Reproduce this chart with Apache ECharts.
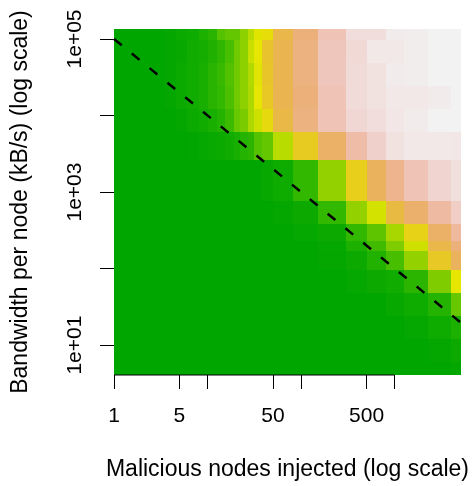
<!DOCTYPE html>
<html>
<head>
<meta charset="utf-8">
<script src="https://cdn.jsdelivr.net/npm/echarts@6/dist/echarts.min.js"></script>
<style>
  html, body { margin: 0; padding: 0; background: #fff; }
  #chart { width: 472px; height: 486px; }
</style>
</head>
<body>
<div id="chart"></div>
<script>
// cell edges (data units)
var xEdges = [1, 3.4, 4.6, 6, 8, 10, 12.5, 15.5, 19, 22, 27, 31, 38, 50, 82, 150, 300, 500, 800, 1270, 2280, 4000, 5100];
var yEdges = [4.07, 6, 12, 24, 48, 97, 172, 232, 384, 768, 2600, 6150, 12300, 24600, 49200, 97000, 135000];

// colour level (0 = green, 0.5 = yellow, 1 = white), rows from bottom to top
var levels = [
  [0,0,0,0,0,0,0,0,0,0,0,0,0,0,0,0,0,0,0,0,0,0.01],
  [0,0,0,0,0,0,0,0,0,0,0,0,0,0,0,0,0,0,0,0,0.01,0.035],
  [0,0,0,0,0,0,0,0,0,0,0,0,0,0,0,0,0,0,0,0.015,0.04,0.08],
  [0,0,0,0,0,0,0,0,0,0,0,0,0,0,0,0,0,0,0.02,0.04,0.1,0.26],
  [0,0,0,0,0,0,0,0,0,0,0,0,0,0,0,0,0.015,0.036,0.047,0.12,0.31,0.5],
  [0,0,0,0,0,0,0,0,0,0,0,0,0,0,0,0.01,0.036,0.093,0.19,0.35,0.58,0.7],
  [0,0,0,0,0,0,0,0,0,0,0,0,0,0,0,0.015,0.08,0.17,0.31,0.46,0.66,0.76],
  [0,0,0,0,0,0,0,0,0,0,0,0,0,0,0.015,0.035,0.14,0.24,0.39,0.55,0.72,0.83],
  [0,0,0,0,0,0,0,0,0,0,0,0,0,0.01,0.035,0.14,0.35,0.47,0.64,0.73,0.84,0.91],
  [0,0,0,0,0,0,0,0,0,0.005,0.005,0.005,0.02,0.04,0.14,0.35,0.56,0.7,0.8,0.88,0.93,0.96],
  [0,0,0,0.005,0.015,0.025,0.035,0.05,0.07,0.1,0.12,0.22,0.25,0.42,0.57,0.72,0.85,0.92,0.965,0.98,0.98,0.975],
  [0,0,0.01,0.03,0.05,0.07,0.1,0.16,0.26,0.3,0.4,0.46,0.53,0.65,0.77,0.88,0.94,0.955,0.975,0.985,1,1],
  [0,0.01,0.03,0.05,0.07,0.11,0.14,0.2,0.28,0.34,0.4,0.5,0.58,0.67,0.76,0.88,0.95,0.965,0.98,0.98,0.985,1],
  [0,0.01,0.03,0.05,0.07,0.11,0.15,0.21,0.28,0.34,0.41,0.49,0.59,0.67,0.77,0.89,0.95,0.965,0.985,0.99,1,1],
  [0,0.01,0.02,0.05,0.06,0.09,0.13,0.19,0.28,0.34,0.45,0.5,0.6,0.67,0.77,0.89,0.945,0.98,0.98,0.99,1,1],
  [0,0.01,0.03,0.04,0.08,0.11,0.22,0.25,0.25,0.34,0.42,0.49,0.52,0.66,0.76,0.88,0.955,0.955,0.985,0.99,1,1]
];

var xTicks = [1, 5, 10, 50, 100, 500, 1000];
var xLabels = [1, 5, 50, 500];
var yTicks = [10, 100, 1000, 10000, 100000];
var yLabels = [10, 1000, 100000];
var refLine = [[1, 100000], [5100, 100000 / 5100]];
var xAxisLine = [[1, 4.07], [1000, 4.07]];

// R terrain.colors, continuous
function terrain(t) {
  var h, s, v, u;
  if (t <= 0.5) { u = t / 0.5; h = 120 - 60 * u; s = 1; v = 0.65 + 0.25 * u; }
  else { u = (t - 0.5) / 0.5; h = 60 - 60 * u; s = 1 - u; v = 0.9 + 0.05 * u; }
  var c = v * s, hp = h / 60, x = c * (1 - Math.abs(hp % 2 - 1)), m = v - c;
  var r, g, b;
  if (hp < 1) { r = c; g = x; b = 0; } else { r = x; g = c; b = 0; }
  function hx(n) { var k = Math.round((n + m) * 255).toString(16); return k.length < 2 ? '0' + k : k; }
  return '#' + hx(r) + hx(g) + hx(b);
}

var cells = [];
for (var i = 0; i < levels.length; i++) {
  for (var j = 0; j < levels[i].length; j++) {
    cells.push([xEdges[j], xEdges[j + 1], yEdges[i], yEdges[i + 1], levels[i][j]]);
  }
}

var font = 'Liberation Sans, Arial, Helvetica, sans-serif';
var chart = echarts.init(document.getElementById('chart'), null, { renderer: 'canvas' });
var option = {
  animation: false,
  grid: { left: 114, top: 29, width: 349, height: 347.7 },
  xAxis: {
    type: 'log', min: 1, max: 5100, logBase: 10,
    name: 'Malicious nodes injected (log scale)',
    nameLocation: 'middle', nameGap: 83,
    nameTextStyle: { fontFamily: font, fontSize: 23, color: '#000' },
    axisLine: { show: false },
    axisTick: { show: true, length: 14, customValues: xTicks, lineStyle: { color: '#000', width: 1 } },
    axisLabel: { customValues: xLabels, margin: 31, fontFamily: font, fontSize: 21, color: '#000',
      formatter: function (v) { return String(Math.round(v)); } },
    splitLine: { show: false }
  },
  yAxis: {
    type: 'log', min: 4.07, max: 135000, logBase: 10,
    name: 'Bandwidth per node (kB/s) (log scale)',
    nameLocation: 'middle', nameGap: 82, nameRotate: 90,
    nameTextStyle: { fontFamily: font, fontSize: 23, color: '#000' },
    axisLine: { show: false },
    axisTick: { show: true, length: 14, customValues: yTicks, lineStyle: { color: '#000', width: 1 } },
    axisLabel: { customValues: yLabels, rotate: 90, margin: 28, fontFamily: font, fontSize: 21, color: '#000',
      formatter: function (v) {
        var e = Math.round(Math.log10(v));
        return '1e+' + (e < 10 ? '0' : '') + e;
      } },
    splitLine: { show: false }
  },
  series: [
    {
      type: 'custom',
      data: cells,
      encode: { x: [0, 1], y: [2, 3] },
      clip: true,
      renderItem: function (params, api) {
        var p0 = api.coord([api.value(0), api.value(3)]);
        var p1 = api.coord([api.value(1), api.value(2)]);
        var x0 = Math.round(p0[0]), y0 = Math.round(p0[1]);
        var x1 = Math.round(p1[0]), y1 = Math.round(p1[1]);
        return {
          type: 'rect',
          shape: { x: x0, y: y0, width: x1 - x0, height: y1 - y0 },
          style: { fill: terrain(api.value(4)) }
        };
      },
      z: 1
    },
    {
      type: 'line',
      data: refLine,
      symbol: 'none',
      lineStyle: { color: '#000', width: 2.5, type: [10, 13] },
      z: 3
    },
    {
      type: 'line',
      data: xAxisLine,
      symbol: 'none',
      clip: false,
      lineStyle: { color: '#000', width: 1 },
      z: 3
    }
  ]
};
chart.setOption(option);
</script>
</body>
</html>
